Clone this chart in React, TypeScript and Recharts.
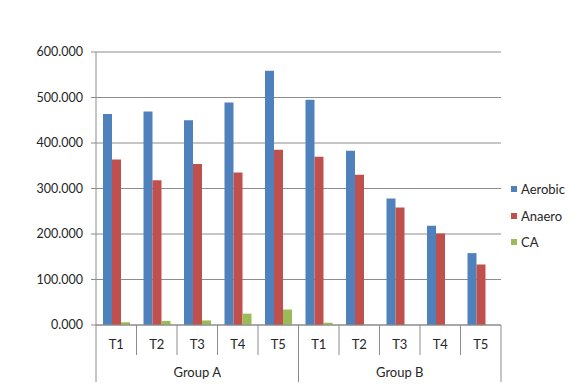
import { BarChart, Bar, XAxis, YAxis, CartesianGrid } from 'recharts';

const groupNames = ['Group A', 'Group B'];
const timepoints = ['T1', 'T2', 'T3', 'T4', 'T5'];

const aerobic = [464, 469, 450, 489, 559, 495, 383, 278, 218, 158];
const anaero = [364, 318, 354, 335, 385, 370, 330, 258, 201, 133];
const ca = [6, 9, 10, 25, 34, 5, 1, 0, 0, 0];

const yTicks = [0, 100, 200, 300, 400, 500, 600];

const series = [
  { key: 'Aerobic', color: '#4F81BD' },
  { key: 'Anaero', color: '#C0504D' },
  { key: 'CA', color: '#9BBB59' },
];

const data = groupNames.flatMap((group, g) =>
  timepoints.map((t, i) => {
    const idx = g * timepoints.length + i;
    return { t, group, Aerobic: aerobic[idx], Anaero: anaero[idx], CA: ca[idx] };
  })
);

const W = 583;
const H = 390;
const margin = { top: 52, right: 82, bottom: 5, left: 0 };
const Y_AXIS_W = 96;
const band = (W - margin.left - margin.right - Y_AXIS_W) / data.length;

const LINE = '#8c8c8c';
const TEXT = '#262626';

function TimeTick({ x, y, payload, index }: any) {
  return (
    <g>
      {index === 0 && (
        <line x1={x - band / 2} y1={y} x2={x - band / 2} y2={y + 30} stroke={LINE} />
      )}
      <line x1={x + band / 2} y1={y} x2={x + band / 2} y2={y + 30} stroke={LINE} />
      <text x={x} y={y + 24} textAnchor="middle" fontSize={13} fill={TEXT}>
        {payload.value}
      </text>
    </g>
  );
}

function GroupTick({ x, y, index }: any) {
  const row = data[index];
  const first = index === 0 || data[index - 1].group !== row.group;
  const last = index === data.length - 1 || data[index + 1].group !== row.group;
  const count = data.filter((d) => d.group === row.group).length;
  return (
    <g>
      {first && (
        <>
          <line x1={x - band / 2} y1={y} x2={x - band / 2} y2={y + 27} stroke={LINE} />
          <text
            x={x - band / 2 + (count * band) / 2}
            y={y + 22}
            textAnchor="middle"
            fontSize={13}
            fill={TEXT}
          >
            {row.group}
          </text>
        </>
      )}
      {last && <line x1={x + band / 2} y1={y} x2={x + band / 2} y2={y + 27} stroke={LINE} />}
    </g>
  );
}

export default function App() {
  return (
    <div
      style={{
        position: 'absolute',
        left: 0,
        top: 0,
        width: W,
        height: H,
        background: '#fff',
        fontFamily: 'Lato, sans-serif',
      }}
    >
      <BarChart width={W} height={H} data={data} margin={margin} barGap={0} barSize={9}>
        <CartesianGrid vertical={false} stroke={LINE} />
        <XAxis
          dataKey="t"
          interval={0}
          height={30}
          tickSize={0}
          tickMargin={0}
          axisLine={{ stroke: LINE }}
          tickLine={false}
          tick={<TimeTick />}
        />
        <XAxis
          xAxisId="group"
          dataKey="group"
          interval={0}
          height={30}
          tickSize={0}
          tickMargin={0}
          axisLine={false}
          tickLine={false}
          tick={<GroupTick />}
        />
        <YAxis
          width={Y_AXIS_W}
          domain={[0, 600]}
          ticks={yTicks}
          interval={0}
          tickFormatter={(v: number) => v.toFixed(3)}
          axisLine={{ stroke: LINE }}
          tickLine={{ stroke: LINE }}
          tickSize={5}
          tickMargin={8}
          tick={{ fontSize: 12.5, fill: TEXT }}
        />
        {series.map((s) => (
          <Bar key={s.key} dataKey={s.key} fill={s.color} isAnimationActive={false} />
        ))}
      </BarChart>
      <div style={{ position: 'absolute', left: 511, top: 176 }}>
        {series.map((s) => (
          <div
            key={s.key}
            style={{ display: 'flex', alignItems: 'center', height: 26.5, fontSize: 13, color: TEXT }}
          >
            <span
              style={{ display: 'inline-block', width: 6, height: 6, background: s.color, marginRight: 4 }}
            />
            {s.key}
          </div>
        ))}
      </div>
    </div>
  );
}
